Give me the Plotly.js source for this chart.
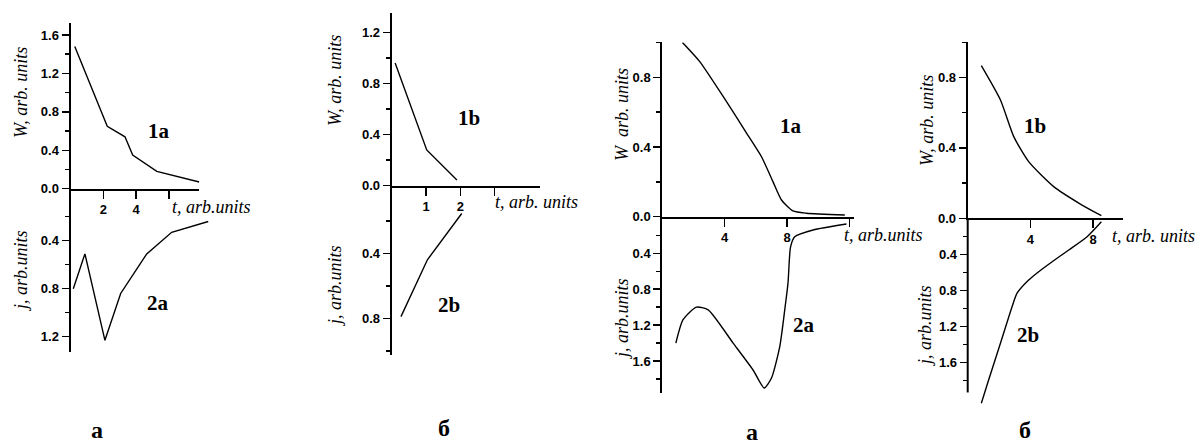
<!DOCTYPE html>
<html>
<head>
<meta charset="utf-8">
<script src="https://cdn.plot.ly/plotly-3.0.1.min.js"></script>
<style>html,body{margin:0;padding:0;background:#fff;}#chart{width:1200px;height:446px;}</style>
</head>
<body>
<div id="chart"></div>
<script>
// ---------- DATA ----------
// Panel 1 ("а", left): W(t) curve 1a and j(t) curve 2a
const p1_W_t = [0.26, 2.24, 3.32, 3.79, 5.26, 7.85];
const p1_W   = [1.48, 0.65, 0.54, 0.35, 0.18, 0.07];
const p1_j_t = [0.17, 0.88, 2.10, 3.06, 4.65, 6.17, 8.40];
const p1_j   = [0.80, 0.51, 1.23, 0.84, 0.51, 0.33, 0.24];
// Panel 2 ("б", left): curves 1b and 2b
const p2_W_t = [0.10, 1.02, 1.90];
const p2_W   = [0.96, 0.28, 0.045];
const p2_j_t = [0.27, 1.04, 2.04];
const p2_j   = [0.79, 0.44, 0.155];
// Panel 3 ("а", right): curves 1a and 2a
const p3_W_t = [1.29, 2.40, 3.90, 5.40, 6.36, 7.10, 7.64, 8.38, 9.24, 11.70];
const p3_W   = [1.00, 0.89, 0.69, 0.48, 0.344, 0.20, 0.096, 0.033, 0.020, 0.010];
const p3_j_t = [0.87, 1.33, 2.19, 2.94, 4.54, 5.82, 6.53, 7.00, 7.53, 7.85, 8.06, 8.22, 8.49, 9.67, 11.81];
const p3_j   = [1.40, 1.14, 1.00, 1.03, 1.40, 1.70, 1.90, 1.79, 1.44, 1.03, 0.73, 0.33, 0.215, 0.14, 0.074];
// Panel 4 ("б", right): curves 1b and 2b
const p4_W_t = [0.87, 2.09, 2.94, 3.89, 5.49, 7.19, 8.53];
const p4_W   = [0.867, 0.672, 0.464, 0.322, 0.180, 0.081, 0.015];
const p4_j_t = [0.87, 1.34, 2.09, 2.83, 3.15, 3.89, 4.53, 5.39, 6.45, 7.62, 8.53];
const p4_j   = [2.05, 1.79, 1.385, 0.98, 0.83, 0.684, 0.592, 0.481, 0.351, 0.204, 0.038];

// Tick values / labels
const p1_xticks = [2, 4, 6],  p1_xlabels = ['2', '4', ''];
const p2_xticks = [1, 2, 3],  p2_xlabels = ['1', '2', ''];
const p3_xticks = [4, 8, 12], p3_xlabels = ['4', '8', ''];
const p4_xticks = [4, 8],     p4_xlabels = ['4', '8'];
const p1_Wticks = [0, 0.4, 0.8, 1.2, 1.6], p1_Wminor = [0.2, 0.6, 1.0, 1.4];
const p1_jticks = [0.4, 0.8, 1.2],         p1_jminor = [0.2, 0.6, 1.0];
const p2_Wticks = [0, 0.4, 0.8, 1.2],      p2_Wminor = [0.2, 0.6, 1.0];
const p2_jticks = [0.4, 0.8],              p2_jminor = [0.2, 0.6, 1.0];
const p3_Wticks = [0, 0.4, 0.8],           p3_Wminor = [0.2, 0.6, 1.0];
const p3_jticks = [0.4, 0.8, 1.2, 1.6],    p3_jminor = [0.2, 0.6, 1.0, 1.4, 1.8];
const p4_Wticks = [0, 0.4, 0.8],           p4_Wminor = [0.2, 0.6, 1.0];
const p4_jticks = [0.4, 0.8, 1.2, 1.6],    p4_jminor = [0.2, 0.6, 1.0, 1.4, 1.8];

// Texts
const curveLabels = [['1a', '2a'], ['1b', '2b'], ['1a', '2a'], ['1b', '2b']];
const panelLetters = ['а', 'б', 'а', 'б'];
const wTitles = ['W, arb. units', 'W, arb. units', 'W\u00a0 arb. units', 'W, arb. units'];
const jTitles = ['j, arb.units', 'j, arb.units', 'j, arb.units', 'j, arb.units'];
const tTitles = ['t, arb.units', 't, arb. units', 't, arb.units', 't, arb. units'];

// ---------- LAYOUT (pixel geometry) ----------
const FW = 1200, FH = 446;
const dx = (a, b) => [a / FW, b / FW];
const dy = (top, bot) => [1 - bot / FH, 1 - top / FH];
const px = v => v / FW, py = v => 1 - v / FH;

const panels = [
  { Wt: p1_W_t, W: p1_W, jt: p1_j_t, j: p1_j, smooth: false,
    xW: [70.5, 199.3], xWr: [0, 7.85], xJ: [70.5, 212], xJr: [0, 8.63],
    yW: [22.7, 188.7], yWr: [0, 1.728], yJ: [188.7, 351.7], yJr: [1.325, -0.033],
    xt: p1_xticks, xl: p1_xlabels, Wt_: p1_Wticks, Wm: p1_Wminor, jt_: p1_jticks, jm: p1_jminor,
    wT: [21, 93], jT: [21, 271], tT: [211, 207], l1: [159, 131], l2: [158, 303], let: [97, 430] },
  { Wt: p2_W_t, W: p2_W, jt: p2_j_t, j: p2_j, smooth: false,
    xW: [391.7, 540], xWr: [0, 4.32], xJ: [391.7, 540], xJr: [0, 4.32],
    yW: [13.3, 185.7], yWr: [0, 1.349], yJ: [185.7, 355], yJr: [1.026, -0.016],
    xt: p2_xticks, xl: p2_xlabels, Wt_: p2_Wticks, Wm: p2_Wminor, jt_: p2_jticks, jm: p2_jminor,
    wT: [335, 81], jT: [335, 286], tT: [536, 202], l1: [469, 118], l2: [449, 305], let: [444, 428] },
  { Wt: p3_W_t, W: p3_W, jt: p3_j_t, j: p3_j, smooth: true,
    xW: [662.3, 854], xWr: [0, 12.29], xJ: [662.3, 854], xJr: [0, 12.29],
    yW: [42.4, 216.7], yWr: [0, 1.0], yJ: [216.7, 392.7], yJr: [1.953, -0.008],
    xt: p3_xticks, xl: p3_xlabels, Wt_: p3_Wticks, Wm: p3_Wminor, jt_: p3_jticks, jm: p3_jminor,
    wT: [622, 115], jT: [622, 319], tT: [883, 235], l1: [791, 126], l2: [804, 325], let: [752, 432] },
  { Wt: p4_W_t, W: p4_W, jt: p4_j_t, j: p4_j, smooth: true,
    xW: [967.7, 1123.3], xWr: [0, 9.93], xJ: [967.7, 1123.3], xJr: [0, 9.93],
    yW: [42.3, 218.3], yWr: [0, 1.0], yJ: [218.3, 405], yJr: [2.069, 0], jAxisEnd: 1.93,
    xt: p4_xticks, xl: p4_xlabels, Wt_: p4_Wticks, Wm: p4_Wminor, jt_: p4_jticks, jm: p4_jminor,
    wT: [927, 121], jT: [925, 326], tT: [1153, 236], l1: [1035, 126], l2: [1028, 335], let: [1025, 430] }
];

const tickFont = { family: 'Liberation Sans', size: 13, color: '#000', weight: 'bold' };
const serif = 'Liberation Serif';
const fmt = v => v.toFixed(1);

const traces = [];
const layout = {
  width: FW, height: FH,
  margin: { l: 0, r: 0, t: 0, b: 0 },
  paper_bgcolor: '#fff', plot_bgcolor: 'rgba(0,0,0,0)',
  showlegend: false,
  font: { family: serif, color: '#000' },
  annotations: [], shapes: []
};

function yAxis(dom, rng, ticks, minor, anchor, showline) {
  return {
    domain: dom, range: rng, anchor: anchor,
    showline: showline, linecolor: '#000', linewidth: 2,
    showgrid: false, zeroline: false,
    ticks: 'outside', ticklen: 7, tickwidth: 1.5, tickcolor: '#000',
    tickmode: 'array', tickvals: ticks, ticktext: ticks.map(fmt),
    tickfont: tickFont,
    minor: { tickmode: 'array', tickvals: minor, ticks: 'outside', ticklen: 4, tickwidth: 1.5, tickcolor: '#000', showgrid: false }
  };
}

panels.forEach((p, i) => {
  const a = 2 * i + 1, b = 2 * i + 2;
  const xa = 'xaxis' + a, xb = 'xaxis' + b, ya = 'yaxis' + a, yb = 'yaxis' + b;
  const line = { color: '#000', width: 1.4, shape: p.smooth ? 'spline' : 'linear', smoothing: 0.6 };

  traces.push({ type: 'scatter', mode: 'lines', x: p.Wt, y: p.W, xaxis: 'x' + a, yaxis: 'y' + a, line: line, hoverinfo: 'skip' });
  traces.push({ type: 'scatter', mode: 'lines', x: p.jt, y: p.j, xaxis: 'x' + b, yaxis: 'y' + b, line: line, hoverinfo: 'skip' });

  layout[xa] = {
    domain: dx(p.xW[0], p.xW[1]), range: p.xWr, anchor: 'y' + a,
    showline: true, linecolor: '#000', linewidth: 2, showgrid: false, zeroline: false,
    ticks: 'outside', ticklen: 8, tickwidth: 1.5, tickcolor: '#000',
    tickmode: 'array', tickvals: p.xt, ticktext: p.xl, tickfont: tickFont
  };
  layout[xb] = { domain: dx(p.xJ[0], p.xJ[1]), range: p.xJr, anchor: 'y' + b, visible: false };
  layout[ya] = yAxis(dy(p.yW[0], p.yW[1]), p.yWr, p.Wt_, p.Wm, 'x' + a, true);
  layout[yb] = yAxis(dy(p.yJ[0], p.yJ[1]), p.yJr, p.jt_, p.jm, 'x' + b, p.jAxisEnd === undefined);

  if (p.jAxisEnd !== undefined) {
    layout.shapes.push({ type: 'line', xref: 'x' + b + ' domain', yref: 'y' + b,
      x0: 0, x1: 0, y0: 0, y1: p.jAxisEnd, line: { color: '#000', width: 2 } });
  }

  const ann = (pos, text, opts) => Object.assign({
    xref: 'paper', yref: 'paper', x: px(pos[0]), y: py(pos[1]),
    xanchor: 'center', yanchor: 'middle', showarrow: false, text: text
  }, opts);

  const titleFont = { family: serif, size: 18, color: '#000', style: 'italic' };
  layout.annotations.push(ann(p.wT, wTitles[i], { textangle: -90, font: titleFont }));
  layout.annotations.push(ann(p.jT, jTitles[i], { textangle: -90, font: titleFont }));
  layout.annotations.push(ann(p.tT, tTitles[i], { font: titleFont }));
  layout.annotations.push(ann(p.l1, curveLabels[i][0], { font: { family: serif, size: 21, color: '#000', weight: 'bold' } }));
  layout.annotations.push(ann(p.l2, curveLabels[i][1], { font: { family: serif, size: 21, color: '#000', weight: 'bold' } }));
  layout.annotations.push(ann(p.let, panelLetters[i], { font: { family: serif, size: 24, color: '#000', weight: 'bold' } }));
});

Plotly.newPlot('chart', traces, layout, { staticPlot: true, displayModeBar: false });
</script>
</body>
</html>
